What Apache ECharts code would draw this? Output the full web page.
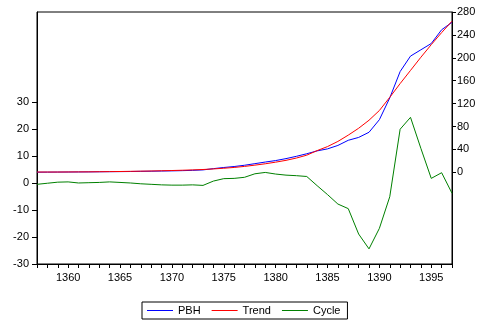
<!DOCTYPE html>
<html>
<head>
<meta charset="utf-8">
<script src="https://cdn.jsdelivr.net/npm/echarts@6/dist/echarts.min.js"></script>
<style>html,body{margin:0;padding:0;background:#fff}#c{width:483px;height:322px}</style>
</head>
<body>
<div id="c"></div>
<script>
const years = [1357,1358,1359,1360,1361,1362,1363,1364,1365,1366,1367,1368,1369,1370,1371,1372,1373,1374,1375,1376,1377,1378,1379,1380,1381,1382,1383,1384,1385,1386,1387,1388,1389,1390,1391,1392,1393,1394,1395,1396,1397];
const pbh = [0.3,0.4,0.5,0.6,0.7,0.8,1.0,1.2,1.3,1.5,1.8,2.0,2.3,2.6,3.0,3.5,4.3,6.5,8.5,10.2,12.4,15.2,18.0,20.6,24,28,32.5,37.5,41,47,56,61,70,92,130,176,203,214,225,249,262];
const trend = [0.6,0.6,0.6,0.7,0.8,0.9,1.1,1.3,1.5,1.8,2.1,2.4,2.8,3.2,3.7,4.3,5.0,6.0,7.2,8.6,10.4,12.6,15.0,17.8,21.0,25.0,30.0,38.0,45,54,65,77,91,108,131,155,178,201,223,244,264];
const cycle = [-0.5,-0.1,0.3,0.4,0.0,0.1,0.2,0.4,0.2,0.0,-0.3,-0.5,-0.7,-0.8,-0.8,-0.7,-0.9,0.7,1.6,1.7,2.1,3.4,3.9,3.3,2.9,2.7,2.4,-1.0,-4.3,-7.8,-9.5,-18.9,-24.4,-16.8,-5.1,19.9,24.3,12.8,1.7,3.8,-3.8];
const xLabelTicks = [1360,1365,1370,1375,1380,1385,1390,1395];
const leftTicks = [-30,-20,-10,0,10,20,30];
const rightTicks = [0,40,80,120,160,200,240,280];

const pair = (arr) => years.map((y, i) => [y, arr[i]]);
const font = 'Liberation Sans, Arial, sans-serif';
const chart = echarts.init(document.getElementById('c'), null, {renderer: 'canvas'});
chart.setOption({
  animation: false,
  backgroundColor: '#fff',
  grid: {left: 37, right: 31, top: 12, bottom: 58, show: true, borderColor: '#000', borderWidth: 1, backgroundColor: 'transparent'},
  legend: {
    left: 142, top: 302,
    padding: [3, 7, 3, 5],
    borderColor: '#000', borderWidth: 1,
    itemWidth: 26, itemHeight: 1, itemGap: 11,
    icon: 'rect',
    textStyle: {fontFamily: font, fontSize: 11, color: '#000'},
    data: ['PBH', 'Trend', 'Cycle']
  },
  xAxis: {
    type: 'value', min: 1357, max: 1397,
    axisLine: {onZero: false, lineStyle: {color: '#000'}},
    axisTick: {customValues: years, length: 4, inside: false, lineStyle: {color: '#000'}},
    axisLabel: {customValues: xLabelTicks, formatter: (v) => String(v), margin: 8, fontFamily: font, fontSize: 11, color: '#000'},
    splitLine: {show: false}
  },
  yAxis: [
    {
      type: 'value', min: -30, max: 63.3, position: 'left',
      axisLine: {show: true, onZero: false, lineStyle: {color: '#000'}},
      axisTick: {show: true, customValues: leftTicks, length: 5, lineStyle: {color: '#000'}},
      axisLabel: {customValues: leftTicks, margin: 8, fontFamily: font, fontSize: 11, color: '#000'},
      splitLine: {show: false}
    },
    {
      type: 'value', min: -160, max: 280, position: 'right',
      axisLine: {show: true, onZero: false, lineStyle: {color: '#000'}},
      axisTick: {show: true, customValues: rightTicks, length: 4, lineStyle: {color: '#000'}},
      axisLabel: {customValues: rightTicks, margin: 5, fontFamily: font, fontSize: 11, color: '#000'},
      splitLine: {show: false}
    }
  ],
  series: [
    {name: 'PBH', type: 'line', yAxisIndex: 1, data: pair(pbh), symbol: 'none', color: '#0000ff', lineStyle: {width: 1, color: '#0000ff'}},
    {name: 'Trend', type: 'line', yAxisIndex: 1, data: pair(trend), symbol: 'none', color: '#ff0000', lineStyle: {width: 1, color: '#ff0000'}},
    {name: 'Cycle', type: 'line', yAxisIndex: 0, data: pair(cycle), symbol: 'none', color: '#008000', lineStyle: {width: 1, color: '#008000'}}
  ]
});
</script>
</body>
</html>
